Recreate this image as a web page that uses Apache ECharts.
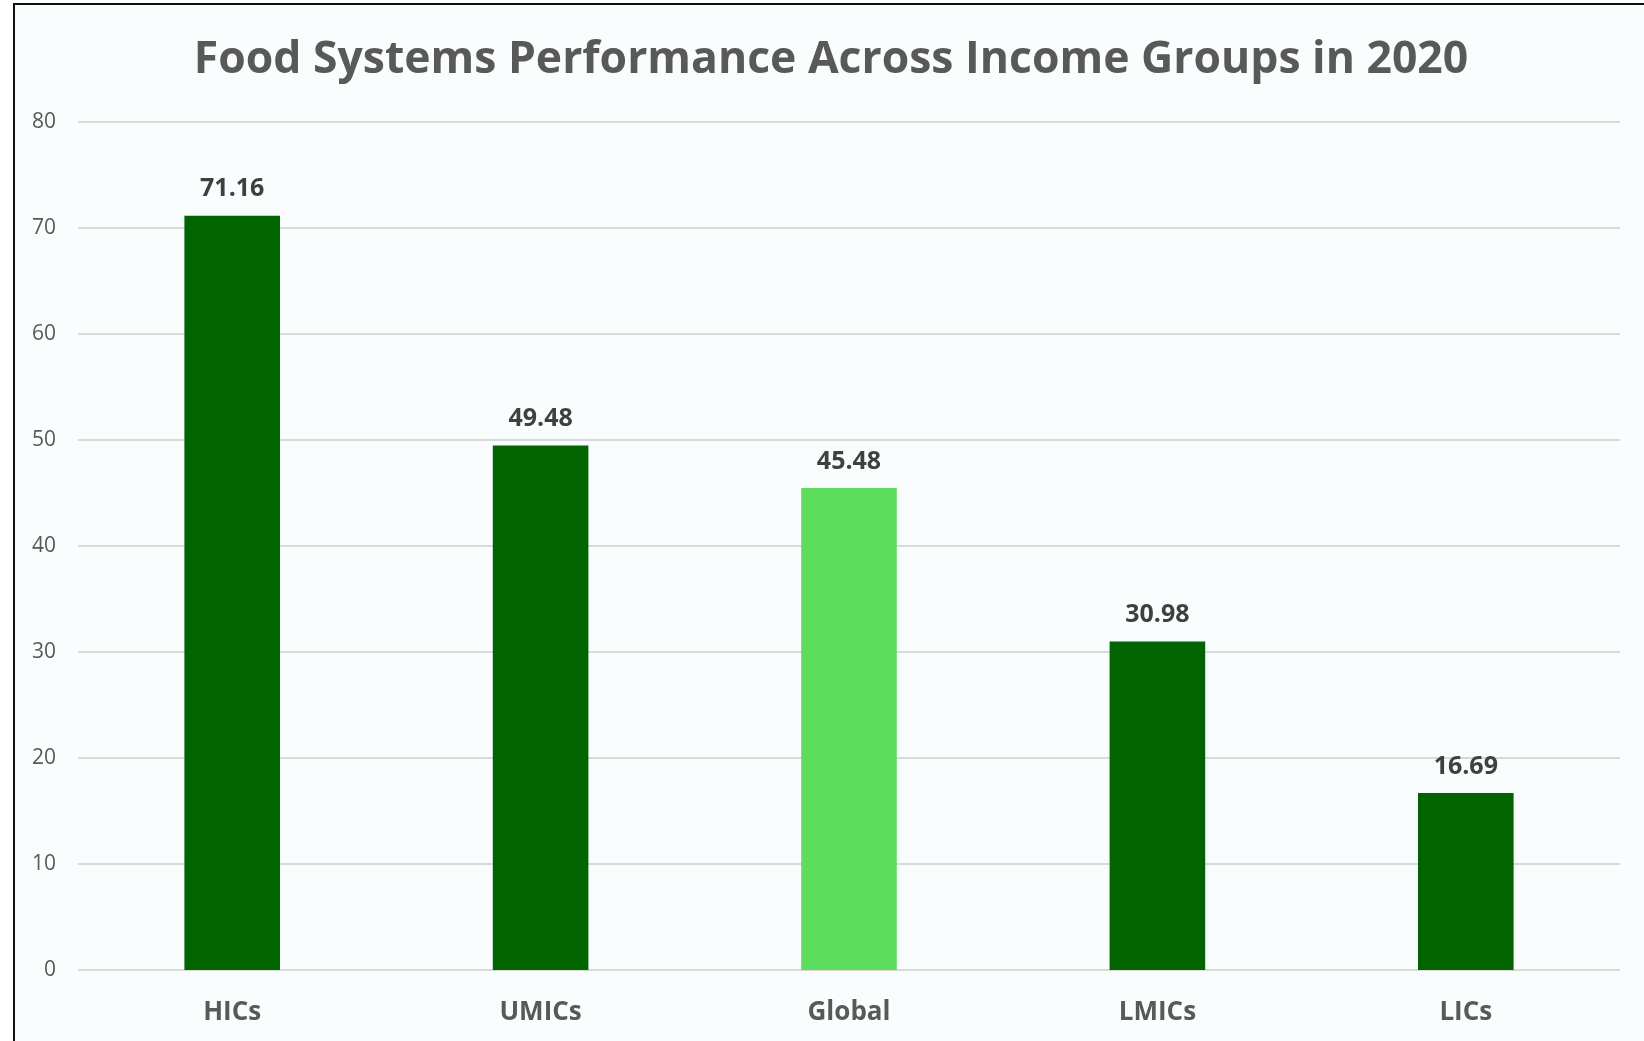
<!DOCTYPE html>
<html>
<head>
<meta charset="utf-8">
<script src="https://cdn.jsdelivr.net/npm/echarts@6/dist/echarts.min.js"></script>
<style>
  html, body { margin: 0; padding: 0; background: #ffffff; overflow: hidden; }
  #frame {
    position: absolute; left: 13px; top: 3px; width: 1640px; height: 1045px;
    border: 2px solid #111; background: #f9fdfe; box-sizing: border-box;
  }
  #chart { position: absolute; left: 0; top: 0; width: 1644px; height: 1041px; }
</style>
</head>
<body>
<div id="frame"></div>
<div id="chart"></div>
<script>
// Income groups and their 2020 food systems scores
const categories = ['HICs', 'UMICs', 'Global', 'LMICs', 'LICs'];
const scores = [71.16, 49.48, 45.48, 30.98, 16.69];
const barColors = ['#006400', '#006400', '#5cdd5c', '#006400', '#006400'];
const yTicks = { min: 0, max: 80, interval: 10 };

const chart = echarts.init(document.getElementById('chart'), null, { renderer: 'canvas' });
chart.setOption({
  backgroundColor: 'transparent',
  animation: false,
  title: {
    text: 'Food Systems Performance Across Income Groups in 2020',
    left: 826,
    textAlign: 'center',
    top: 33,
    textStyle: { fontFamily: 'Open Sans', fontWeight: 'bold', fontSize: 44.5, color: '#595959' }
  },
  grid: { left: 78, right: 24, top: 122, bottom: 71 },
  xAxis: {
    type: 'category',
    data: categories,
    axisLine: { show: false },
    axisTick: { show: false },
    axisLabel: { margin: 30, fontFamily: 'Open Sans', fontWeight: 'bold', fontSize: 26, color: '#595959' }
  },
  yAxis: {
    type: 'value',
    min: yTicks.min, max: yTicks.max, interval: yTicks.interval,
    axisLine: { show: false },
    axisTick: { show: false },
    splitLine: { lineStyle: { color: '#d9d9d9', width: 2 } },
    axisLabel: { margin: 22, fontFamily: 'Open Sans', fontSize: 21, color: '#595959' }
  },
  series: [{
    type: 'bar',
    barWidth: '31%',
    data: scores.map((v, i) => ({ value: v, itemStyle: { color: barColors[i] } })),
    label: {
      show: true, position: 'top', distance: 14,
      formatter: p => p.value.toFixed(2),
      fontFamily: 'Open Sans', fontWeight: 'bold', fontSize: 25, color: '#404040'
    }
  }]
});
</script>
</body>
</html>
